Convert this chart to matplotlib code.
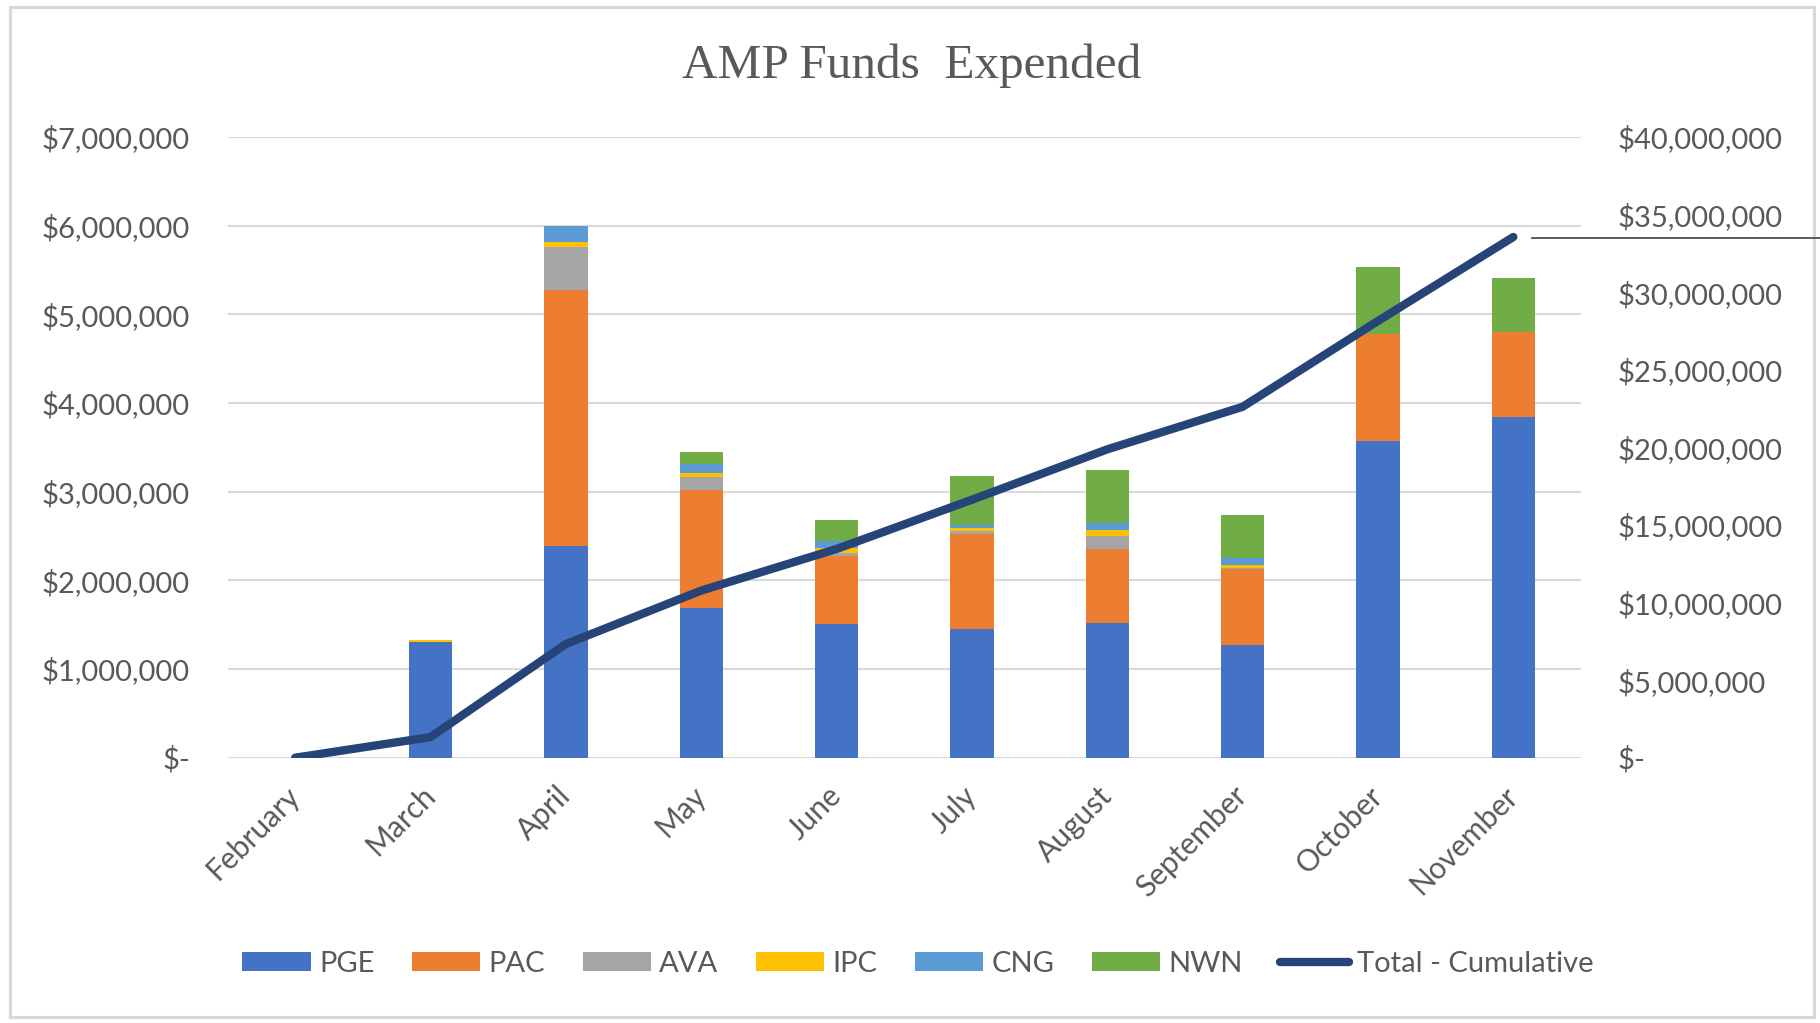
import matplotlib
matplotlib.use("Agg")
import matplotlib.pyplot as plt
from matplotlib.ticker import FuncFormatter, MultipleLocator
from matplotlib.lines import Line2D
from matplotlib.patches import Rectangle

# =========================
# data
# =========================
months = ["February", "March", "April", "May", "June", "July",
          "August", "September", "October", "November"]

pge = [0, 1310000, 2390000, 1685000, 1508000, 1448000, 1523000, 1271000, 3567000, 3839000]
pac = [0, 0, 2885000, 1334000, 763000, 1078000, 827000, 860000, 1215000, 963000]
ava = [0, 0, 485000, 150000, 41000, 34000, 154000, 5000, 0, 0]
ipc = [0, 17000, 60000, 45000, 56000, 27000, 61000, 35000, 0, 0]
cng = [0, 0, 180000, 100000, 76000, 33000, 78000, 82000, 0, 0]
nwn = [0, 0, 0, 130000, 236000, 553000, 605000, 489000, 750000, 609000]

total_cumulative = [0, 1327000, 7327000, 10771000, 13451000, 16624000,
                    19872000, 22614000, 28146000, 33557000]

series_names = ["PGE", "PAC", "AVA", "IPC", "CNG", "NWN"]
series_colors = ["#4472C4", "#ED7D31", "#A5A5A5", "#FFC000", "#5B9BD5", "#70AD47"]

# =========================
# style
# =========================
plt.rcParams["font.family"] = ["Lato", "DejaVu Sans"]
TXT = "#595959"
GRID = "#D9D9D9"

W, H = 1820, 1023
fig = plt.figure(figsize=(W / 100, H / 100), dpi=100)
ax = fig.add_axes([227.5 / W, 1 - 757.7 / H, (1581 - 227.5) / W, (757.7 - 137) / H])
ax2 = ax.twinx()

x = list(range(len(months)))
bottom = [0] * len(months)
for name, vals, col in zip(series_names, [pge, pac, ava, ipc, cng, nwn], series_colors):
    ax.bar(x, vals, width=0.32, bottom=bottom, color=col, label=name, zorder=2, linewidth=0)
    bottom = [b + v for b, v in zip(bottom, vals)]

ax2.plot(x, total_cumulative, color="#264478", linewidth=6,
         solid_capstyle="round", solid_joinstyle="round", label="Total - Cumulative")

# axes
ax.set_xlim(-0.5, len(months) - 0.5)
ax.set_ylim(0, 7000000)
ax2.set_ylim(0, 40000000)
ax.yaxis.set_major_locator(MultipleLocator(1000000))
ax2.yaxis.set_major_locator(MultipleLocator(5000000))

def money(v, pos):
    if abs(v) < 1:
        return "$-"
    return "${:,.0f}".format(v)

ax.yaxis.set_major_formatter(FuncFormatter(money))
ax2.yaxis.set_major_formatter(FuncFormatter(money))

ax.grid(axis="y", color=GRID, linewidth=1.5, zorder=0)
ax.set_axisbelow(True)
for a in (ax, ax2):
    for s in a.spines.values():
        s.set_visible(False)
    a.tick_params(length=0, colors=TXT, labelsize=21)

ax.tick_params(axis="y", pad=27)
ax2.tick_params(axis="y", pad=26)

ax.set_xticks(x)
ax.set_xticklabels(months, rotation=45, ha="right", va="center",
                   rotation_mode="anchor", fontsize=21.5)
ax.tick_params(axis="x", pad=24)

# title
fig.text(912 / W, 1 - 66 / H, "AMP Funds  Expended", ha="center", va="center",
         fontsize=35.5, color=TXT, family="Liberation Serif")

# legend
h1, l1 = ax.get_legend_handles_labels()
h2, l2 = ax2.get_legend_handles_labels()
leg = fig.legend(h1 + h2, l1 + l2, loc="center", ncol=7,
                 bbox_to_anchor=(918 / W, 1 - 964 / H), frameon=False,
                 fontsize=21, handlelength=2.35, handleheight=0.6,
                 handletextpad=0.28, columnspacing=1.28)
for t in leg.get_texts():
    t.set_color(TXT)

# stray line at right and chart border
fig.add_artist(Line2D([1532 / W, 1.0], [1 - 237.7 / H] * 2, color="#404040", linewidth=1.2))
fig.add_artist(Rectangle((9.5 / W, 1 - 1016.5 / H), (1814 - 9.5) / W, (1016.5 - 6.5) / H,
                         fill=False, edgecolor=GRID, linewidth=2.2, transform=fig.transFigure))

fig.savefig("out.png", dpi=100)
